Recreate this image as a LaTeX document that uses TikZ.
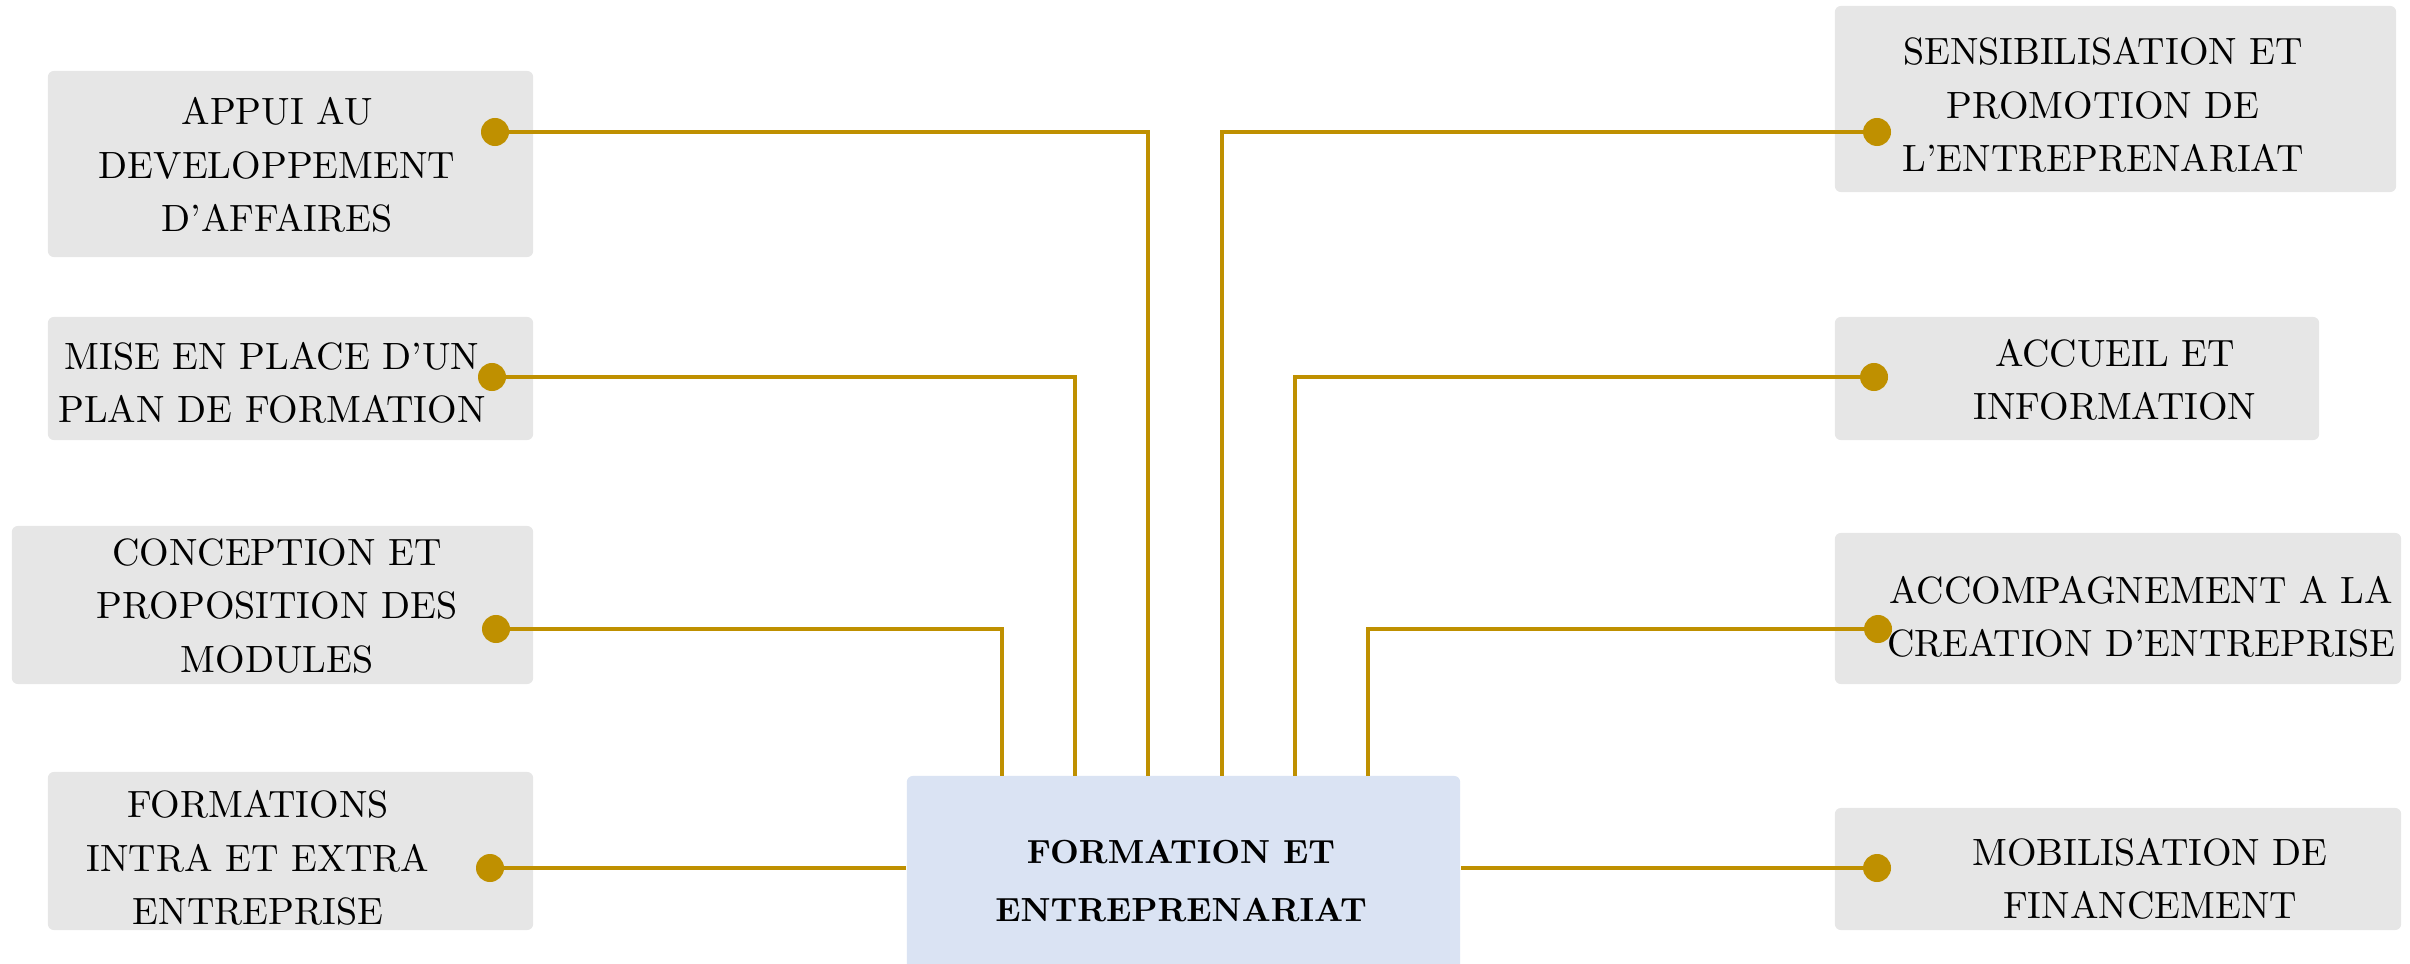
\documentclass[tikz,border=0pt]{standalone}
\usepackage{fontspec}
\definecolor{boxgray}{HTML}{E6E6E6}
\definecolor{boxblue}{HTML}{DAE3F3}
\definecolor{gold}{HTML}{BF9000}
\tikzset{
 box/.style={fill=boxgray, rounded corners=0.06cm, inner sep=0pt, draw=none},
 cbox/.style={fill=boxblue, rounded corners=0.06cm, inner sep=0pt, draw=none},
 lbl/.style={align=center, font=\fontsize{10.8}{15.2}\selectfont, inner sep=0pt},
 clbl/.style={align=center, font=\fontsize{9.5}{16.5}\selectfont\bfseries, inner sep=0pt},
 conn/.style={draw=gold, line width=1.3pt},
 gdot/.style={circle, fill=gold, minimum size=0.28cm, inner sep=0pt},
}
\begin{document}
\begin{tikzpicture}[x=0.01cm,y=-0.01cm]
\useasboundingbox (0,0) rectangle (2410,964);
\clip (0,0) rectangle (2410,964);
% boxes
\node[box, minimum width=4.85cm, minimum height=1.86cm] (b1) at (290.5,164) {};
\node[box, minimum width=4.85cm, minimum height=1.23cm] (b2) at (290.5,378.5) {};
\node[box, minimum width=5.21cm, minimum height=1.58cm] (b3) at (272.5,605) {};
\node[box, minimum width=4.85cm, minimum height=1.58cm] (b4) at (290.5,851) {};
\node[box, minimum width=5.61cm, minimum height=1.86cm] (r1) at (2115.5,99) {};
\node[box, minimum width=4.84cm, minimum height=1.23cm] (r2) at (2077,378.5) {};
\node[box, minimum width=5.66cm, minimum height=1.51cm] (r3) at (2118,608.5) {};
\node[box, minimum width=5.66cm, minimum height=1.22cm] (r4) at (2118,869) {};
\node[cbox, minimum width=5.53cm, minimum height=2.4cm] (C) at (1183.5,896) {};
% labels
\node[lbl] (tb1) at (277,165) {APPUI AU\\DEVELOPPEMENT\\D'AFFAIRES};
\node[lbl] (tb2) at (272,383) {MISE EN PLACE D'UN\\PLAN DE FORMATION};
\node[lbl] (tb3) at (277,606) {CONCEPTION ET\\PROPOSITION DES\\MODULES};
\node[lbl] (tb4) at (258,858) {FORMATIONS\\INTRA ET EXTRA\\ENTREPRISE};
\node[lbl] (tr1) at (2103,105) {SENSIBILISATION ET\\PROMOTION DE\\L'ENTREPRENARIAT};
\node[lbl] (tr2) at (2115,380) {ACCUEIL ET\\INFORMATION};
\node[lbl] (tr3) at (2141,617) {ACCOMPAGNEMENT A LA\\CREATION D'ENTREPRISE};
\node[lbl] (tr4) at (2150,879) {MOBILISATION DE\\FINANCEMENT};
\node[clbl] (tc) at (1181,881) {FORMATION ET\\ENTREPRENARIAT};
% connector points
\coordinate (p1) at (495,132);
\coordinate (p2) at (492,377);
\coordinate (p3) at (496,629);
\coordinate (p4) at (490,868);
\coordinate (q1) at (1877,132);
\coordinate (q2) at (1874,377);
\coordinate (q3) at (1878,629);
\coordinate (q4) at (1877,868);
\coordinate (c1) at (1148,776);
\coordinate (c2) at (1075,776);
\coordinate (c3) at (1002,776);
\coordinate (c5) at (1222,776);
\coordinate (c6) at (1295,776);
\coordinate (c7) at (1368,776);
% connectors
\draw[conn] (p1) -| (c1);
\draw[conn] (p2) -| (c2);
\draw[conn] (p3) -| (c3);
\draw[conn] (p4) -- (p4 -| C.west);
\draw[conn] (q1) -| (c5);
\draw[conn] (q2) -| (c6);
\draw[conn] (q3) -| (c7);
\draw[conn] (q4) -- (q4 -| C.east);
% dots
\node[gdot] (d1) at (p1) {};
\node[gdot] (d2) at (p2) {};
\node[gdot] (d3) at (p3) {};
\node[gdot] (d4) at (p4) {};
\node[gdot] (e1) at (q1) {};
\node[gdot] (e2) at (q2) {};
\node[gdot] (e3) at (q3) {};
\node[gdot] (e4) at (q4) {};
\end{tikzpicture}
\end{document}
